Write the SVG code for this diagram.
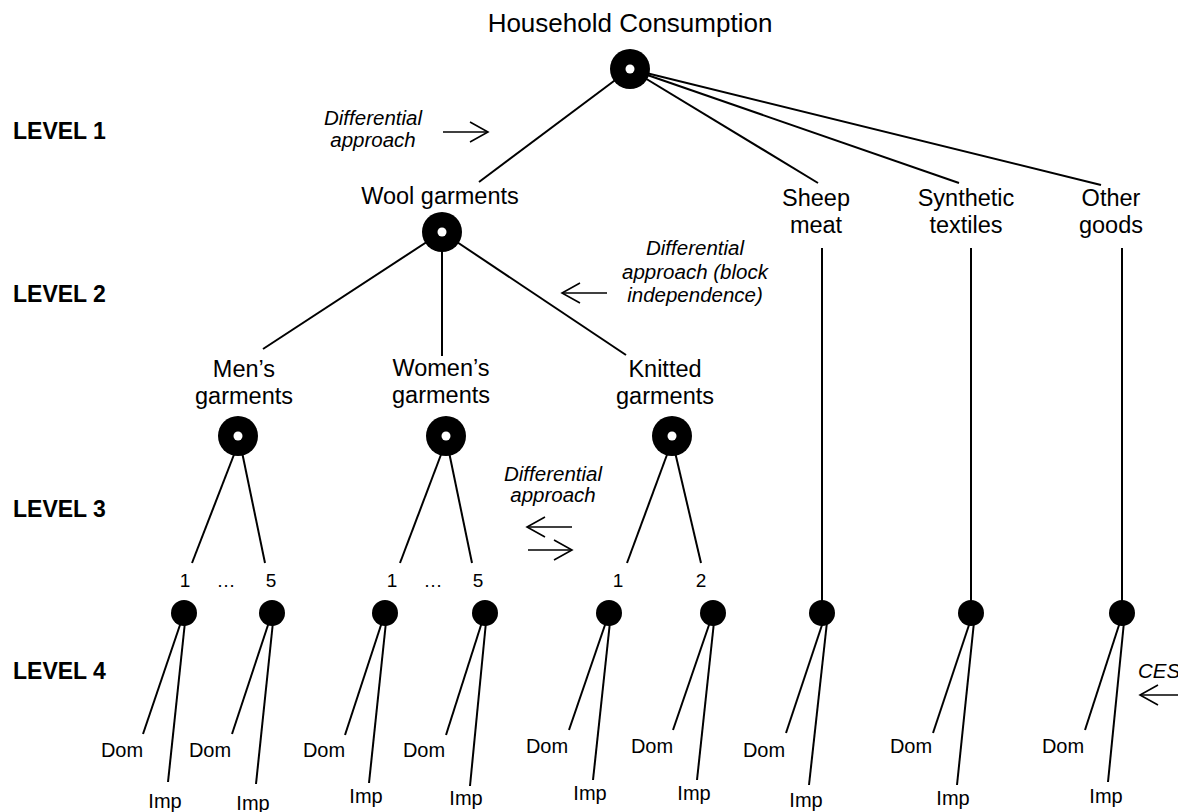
<svg xmlns="http://www.w3.org/2000/svg" width="1178" height="812" viewBox="0 0 1178 812">
<defs>
<style>
text{font-family:"Liberation Sans",Arial,sans-serif;fill:#000}
.t{font-size:23.5px;text-anchor:middle}
.title{font-size:26px;text-anchor:middle}
.lvl{font-size:23px;font-weight:bold}
.it{font-size:20.5px;font-style:italic;text-anchor:middle}
.num{font-size:19px;text-anchor:middle}
.leaf{font-size:20px;text-anchor:middle}
.c line{stroke:#000;stroke-width:2;fill:none}
.arr{stroke:#000;stroke-width:1.6;fill:none}
.hole{fill:#fff}
</style>
<marker id="ah" markerUnits="userSpaceOnUse" markerWidth="22" markerHeight="24" viewBox="-2 -2 22 24" refX="18" refY="10" orient="auto">
<path d="M0,0 L18,10 L0,20" fill="none" stroke="#000" stroke-width="1.6"/>
</marker>
</defs>
<rect width="1178" height="812" fill="#fff"/>

<g id="level-labels">
<text class="lvl" x="13" y="139">LEVEL 1</text>
<text class="lvl" x="13" y="302">LEVEL 2</text>
<text class="lvl" x="13" y="517">LEVEL 3</text>
<text class="lvl" x="13" y="679">LEVEL 4</text>
</g>

<g id="connectors" class="c">
<line x1="630" y1="69" x2="479" y2="182"/>
<line x1="630" y1="69" x2="818" y2="183"/>
<line x1="630" y1="69" x2="959" y2="183"/>
<line x1="630" y1="69" x2="1101" y2="185"/>
<line x1="442" y1="232" x2="263" y2="349"/>
<line x1="442" y1="232" x2="442" y2="356"/>
<line x1="442" y1="232" x2="626" y2="355"/>
<line x1="822" y1="248" x2="822" y2="613"/>
<line x1="971" y1="248" x2="971" y2="613"/>
<line x1="1122" y1="248" x2="1122" y2="613"/>
<line x1="235" y1="452" x2="192" y2="563"/>
<line x1="242" y1="452" x2="265" y2="563"/>
<line x1="442" y1="452" x2="400" y2="563"/>
<line x1="449" y1="452" x2="472" y2="563"/>
<line x1="668" y1="452" x2="627" y2="563"/>
<line x1="675" y1="452" x2="701" y2="563"/>
<line x1="181" y1="622" x2="143" y2="734"/>
<line x1="185" y1="622" x2="168" y2="782"/>
<line x1="269" y1="622" x2="232" y2="734"/>
<line x1="273" y1="622" x2="256" y2="784"/>
<line x1="382" y1="622" x2="345" y2="735"/>
<line x1="386" y1="622" x2="369" y2="783"/>
<line x1="482" y1="622" x2="446" y2="735"/>
<line x1="486" y1="622" x2="470" y2="786"/>
<line x1="606" y1="622" x2="569" y2="730"/>
<line x1="610" y1="622" x2="593" y2="780"/>
<line x1="710" y1="622" x2="673" y2="730"/>
<line x1="714" y1="622" x2="697" y2="780"/>
<line x1="823" y1="622" x2="786" y2="733"/>
<line x1="827" y1="622" x2="809" y2="785"/>
<line x1="970" y1="622" x2="933" y2="733"/>
<line x1="974" y1="622" x2="957" y2="785"/>
<line x1="1120" y1="622" x2="1085" y2="730"/>
<line x1="1124" y1="622" x2="1108" y2="782"/>
</g>

<g id="annotations">
<text class="it" x="373" y="125">Differential</text>
<text class="it" x="373" y="147">approach</text>
<line class="arr" x1="443" y1="132" x2="488" y2="132" marker-end="url(#ah)"/>
<text class="it" x="695" y="255">Differential</text>
<text class="it" x="695" y="279">approach (block</text>
<text class="it" x="695" y="302">independence)</text>
<line class="arr" x1="607" y1="293" x2="562" y2="293" marker-end="url(#ah)"/>
<text class="it" x="553" y="481">Differential</text>
<text class="it" x="553" y="502">approach</text>
<line class="arr" x1="572" y1="527" x2="527" y2="527" marker-end="url(#ah)"/>
<line class="arr" x1="528" y1="550" x2="572" y2="550" marker-end="url(#ah)"/>
<text x="1138" y="678" style="font-size:20.5px;font-style:italic">CES</text>
<line class="arr" x1="1180" y1="695" x2="1140" y2="695" marker-end="url(#ah)"/>
</g>

<g id="household">
<text class="title" x="630" y="32">Household Consumption</text>
<circle cx="630" cy="69" r="20"/><circle class="hole" cx="630" cy="69" r="4.5"/>
</g>
<g id="wool">
<text class="t" x="440" y="204">Wool garments</text>
<circle cx="442" cy="232" r="20"/><circle class="hole" cx="442" cy="232" r="4.5"/>
</g>
<g id="sheep">
<text class="t" x="816" y="206">Sheep</text><text class="t" x="816" y="233">meat</text>
<circle cx="822" cy="613" r="13"/>
</g>
<g id="synthetic">
<text class="t" x="966" y="206">Synthetic</text><text class="t" x="966" y="233">textiles</text>
<circle cx="971" cy="613" r="13"/>
</g>
<g id="other">
<text class="t" x="1111" y="206">Other</text><text class="t" x="1111" y="233">goods</text>
<circle cx="1122" cy="613" r="13"/>
</g>
<g id="mens">
<text class="t" x="244" y="377">Men’s</text><text class="t" x="244" y="404">garments</text>
<circle cx="238" cy="436" r="20"/><circle class="hole" cx="238" cy="436" r="4.5"/>
</g>
<g id="womens">
<text class="t" x="441" y="376">Women’s</text><text class="t" x="441" y="403">garments</text>
<circle cx="446" cy="436" r="20"/><circle class="hole" cx="446" cy="436" r="4.5"/>
</g>
<g id="knitted">
<text class="t" x="665" y="377">Knitted</text><text class="t" x="665" y="404">garments</text>
<circle cx="672" cy="436" r="20"/><circle class="hole" cx="672" cy="436" r="4.5"/>
</g>

<g id="mens-1"><text class="num" x="185" y="587">1</text><circle cx="184" cy="613" r="13"/></g>
<g id="mens-dots"><text class="num" x="226" y="587">…</text></g>
<g id="mens-5"><text class="num" x="271" y="587">5</text><circle cx="272" cy="613" r="13"/></g>
<g id="womens-1"><text class="num" x="392" y="587">1</text><circle cx="385" cy="613" r="13"/></g>
<g id="womens-dots"><text class="num" x="433" y="587">…</text></g>
<g id="womens-5"><text class="num" x="478" y="587">5</text><circle cx="485" cy="613" r="13"/></g>
<g id="knitted-1"><text class="num" x="618" y="587">1</text><circle cx="609" cy="613" r="13"/></g>
<g id="knitted-2"><text class="num" x="701" y="587">2</text><circle cx="713" cy="613" r="13"/></g>

<g id="leaves">
<text class="leaf" x="122" y="757">Dom</text><text class="leaf" x="165" y="808">Imp</text>
<text class="leaf" x="210" y="757">Dom</text><text class="leaf" x="253" y="810">Imp</text>
<text class="leaf" x="324" y="757">Dom</text><text class="leaf" x="366" y="803">Imp</text>
<text class="leaf" x="424" y="757">Dom</text><text class="leaf" x="466" y="805">Imp</text>
<text class="leaf" x="547" y="753">Dom</text><text class="leaf" x="590" y="800">Imp</text>
<text class="leaf" x="652" y="753">Dom</text><text class="leaf" x="694" y="800">Imp</text>
<text class="leaf" x="764" y="757">Dom</text><text class="leaf" x="806" y="807">Imp</text>
<text class="leaf" x="911" y="753">Dom</text><text class="leaf" x="953" y="805">Imp</text>
<text class="leaf" x="1063" y="753">Dom</text><text class="leaf" x="1106" y="803">Imp</text>
</g>
</svg>
